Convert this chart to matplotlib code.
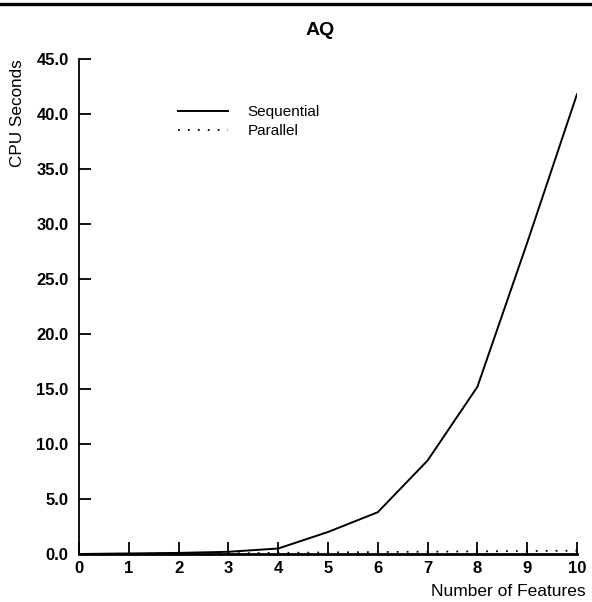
import matplotlib
matplotlib.use("Agg")
import matplotlib.pyplot as plt
from matplotlib.lines import Line2D

plt.rcParams['font.family'] = ['Liberation Sans', 'DejaVu Sans']

features = [0, 1, 2, 3, 4, 5, 6, 7, 8, 9, 10]
sequential = [0.0, 0.05, 0.1, 0.2, 0.5, 2.0, 3.8, 8.5, 15.2, 28.3, 41.8]
parallel = [0.0, 0.02, 0.04, 0.07, 0.1, 0.14, 0.18, 0.21, 0.24, 0.27, 0.3]
x_ticks = [0, 1, 2, 3, 4, 5, 6, 7, 8, 9, 10]
y_ticks = [0, 5, 10, 15, 20, 25, 30, 35, 40, 45]

W, H = 592, 602
fig = plt.figure(figsize=(W / 100, H / 100), dpi=100)
ax = fig.add_axes([79 / W, (H - 554) / H, (577 - 79) / W, (554 - 59) / H])

ax.plot(features, sequential, color='black', lw=1.4, label='Sequential')
ax.plot(features, parallel, color='black', lw=1.3, linestyle=(0, (1, 4.5)), label='Parallel')

ax.set_xlim(0, 10)
ax.set_ylim(0, 45)
ax.set_xticks(x_ticks)
ax.set_yticks(y_ticks)
ax.set_yticklabels([f"{v:.1f}" for v in y_ticks])
for s in ['top', 'right']:
    ax.spines[s].set_visible(False)
ax.spines['left'].set_linewidth(1.3)
ax.spines['bottom'].set_linewidth(2.0)
ax.tick_params(axis='both', direction='in', length=8.5, width=1.3, labelsize=12)
ax.tick_params(axis='y', pad=7.5)
ax.tick_params(axis='x', pad=5)
for lab in ax.get_xticklabels() + ax.get_yticklabels():
    lab.set_fontweight('bold')

leg = ax.legend(loc='upper left',
                bbox_to_anchor=((178 - 79) / (577 - 79), (554 - 105) / (554 - 59)),
                frameon=False, fontsize=11, handlelength=3.3, handletextpad=1.25,
                labelspacing=0.33, borderaxespad=0, borderpad=0)

fig.text(320 / W, (H - 35) / H, 'AQ', ha='center', va='baseline', fontsize=14, fontweight='bold')
fig.text(18 / W, (H - 113.5) / H, 'CPU Seconds', ha='center', va='center', rotation=90, fontsize=12.3)
fig.text(586 / W, (H - 596) / H, 'Number of Features', ha='right', va='baseline', fontsize=12.5)

fig.add_artist(Line2D([0, 1], [1 - 4 / H, 1 - 4 / H], transform=fig.transFigure, color='black', lw=2.4))

fig.savefig('out.png', dpi=100)
